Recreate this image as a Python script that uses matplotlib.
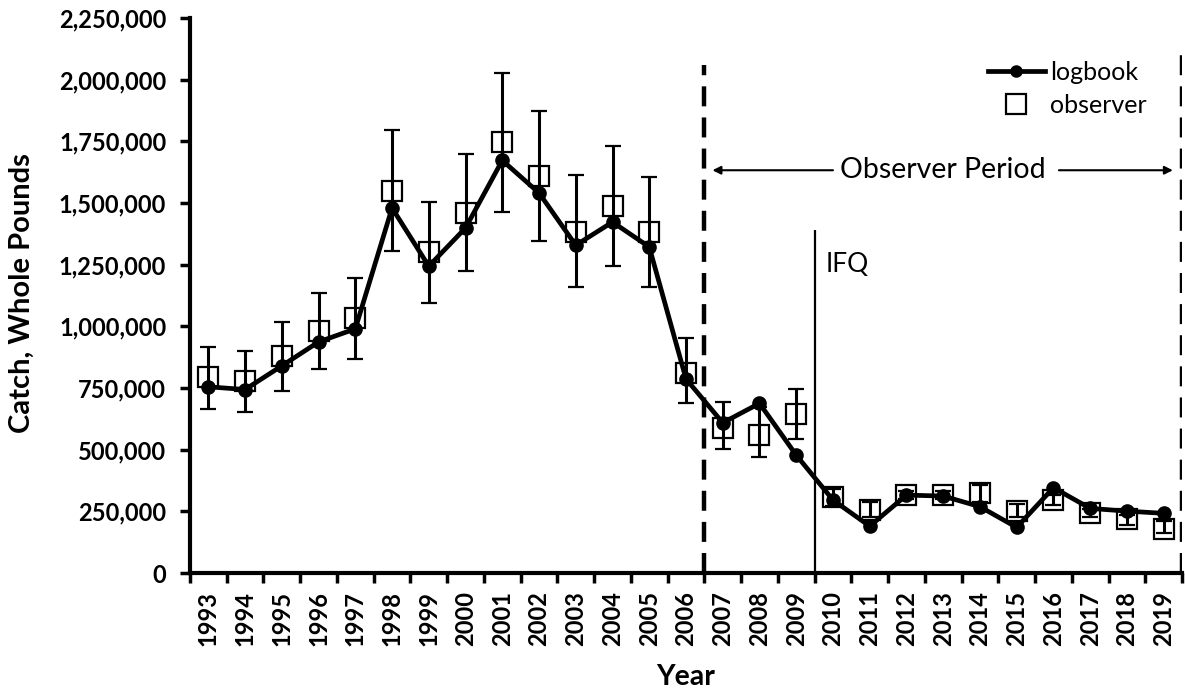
import numpy as np
import matplotlib.pyplot as plt
from matplotlib.lines import Line2D
from matplotlib.ticker import FuncFormatter

plt.rcParams['font.family'] = ['Lato', 'DejaVu Sans']

years = list(range(1993, 2020))

# logbook catch (whole pounds)
logbook = [755000, 744000, 840000, 937000, 990000, 1480000, 1244000, 1399000,
           1673000, 1541000, 1329000, 1423000, 1322000, 787000, 609000, 688000,
           478000, 296000, 190000, 316000, 312000, 269000, 185000, 346000,
           262000, 251000, 242000]

# observer estimates with lower / upper bounds
observer = [793000, 779000, 879000, 982000, 1036000, 1549000, 1302000, 1460000,
            1748000, 1610000, 1383000, 1487000, 1383000, 813000, 590000, 559000,
            644000, 307000, 255000, 316000, 316000, 323000, 252000, 296000,
            244000, 218000, 177000]
obs_lo = [664000, 654000, 739000, 826000, 867000, 1306000, 1093000, 1224000,
          1462000, 1346000, 1160000, 1244000, 1158000, 688000, 501000, 471000,
          542000, 270000, 228000, 300000, 300000, 289000, 228000, 275000,
          229000, 194000, 161000]
obs_hi = [917000, 901000, 1016000, 1137000, 1198000, 1795000, 1504000, 1700000,
          2029000, 1873000, 1613000, 1730000, 1606000, 952000, 692000, 674000,
          748000, 340000, 286000, 332000, 332000, 356000, 278000, 318000,
          259000, 235000, 211000]

x = np.arange(len(years))
observer = np.array(observer)
yerr = [observer - np.array(obs_lo), np.array(obs_hi) - observer]

fig = plt.figure(figsize=(11.85, 6.95), dpi=100)
ax = fig.add_axes([0.1603, 0.1755, 0.8372, 0.7985])

ax.errorbar(x, observer, yerr=yerr, fmt='s', ms=14.5, mfc='none', mec='black',
            mew=1.6, ecolor='black', elinewidth=2.2, capsize=6, capthick=2.2,
            zorder=3)
ax.plot(x, logbook, '-o', color='black', lw=3.4, ms=9.5, zorder=4)

# observer period and IFQ markers
ax.vlines(13.5, 0, 2060000, colors='black', linestyles=(0, (4.5, 2.5)), lw=3.2)
ax.vlines(26.5, 0, 2110000, colors='black', linestyles=(0, (4.5, 2.5)), lw=3.2)
ax.vlines(16.5, 0, 1390000, colors='black', lw=1.6)
ax.text(16.8, 1250000, 'IFQ', fontsize=19, va='center', ha='left')

ax.text(20.0, 1633000, 'Observer Period', fontsize=20.5, ha='center',
        va='center')
ax.annotate('', xy=(13.72, 1633000), xytext=(17.0, 1633000),
            arrowprops=dict(arrowstyle='-|>', color='black', lw=1.5,
                            mutation_scale=12, shrinkA=0, shrinkB=0))
ax.annotate('', xy=(26.25, 1633000), xytext=(23.15, 1633000),
            arrowprops=dict(arrowstyle='-|>', color='black', lw=1.5,
                            mutation_scale=12, shrinkA=0, shrinkB=0))

ax.set_xlim(-0.5, 26.5)
ax.set_ylim(0, 2250000)
ax.set_yticks(np.arange(0, 2250001, 250000))
ax.yaxis.set_major_formatter(FuncFormatter(lambda v, p: f'{int(v):,}'))

# ticks sit between years, labels at the year centres
ax.set_xticks(np.arange(-0.5, 27, 1))
ax.set_xticklabels([])
ax.set_xticks(x, minor=True)
ax.set_xticklabels([str(y) for y in years], minor=True, rotation=90,
                   fontsize=17, fontweight='bold')
ax.tick_params(axis='x', which='minor', length=0, pad=13)
ax.tick_params(axis='x', which='major', length=7, width=2.5, direction='out')
ax.tick_params(axis='y', length=7, width=2.5, direction='out', labelsize=17,
               pad=10)
for lab in ax.get_yticklabels():
    lab.set_fontweight('bold')

for s in ['top', 'right']:
    ax.spines[s].set_visible(False)
for s in ['left', 'bottom']:
    ax.spines[s].set_linewidth(3)

fig.text(686 / 1185, 1 - 677 / 695, 'Year', fontsize=20.5, fontweight='bold',
         ha='center', va='center')
fig.text(22 / 1185, 1 - 293 / 695, 'Catch, Whole Pounds', fontsize=21,
         fontweight='bold', rotation=90, ha='center', va='center')

handles = [Line2D([], [], color='black', lw=3.4, marker='o', ms=8),
           Line2D([], [], ls='none', marker='s', ms=14, mfc='none',
                  mec='black', mew=1.6)]
ax.legend(handles, ['logbook', 'observer'], loc='upper left',
          bbox_to_anchor=(0.8145, 0.945), bbox_transform=fig.transFigure,
          frameon=False, fontsize=18, handlelength=2.3, handletextpad=0.2,
          labelspacing=0.42)

fig.savefig('out.png', dpi=100)
